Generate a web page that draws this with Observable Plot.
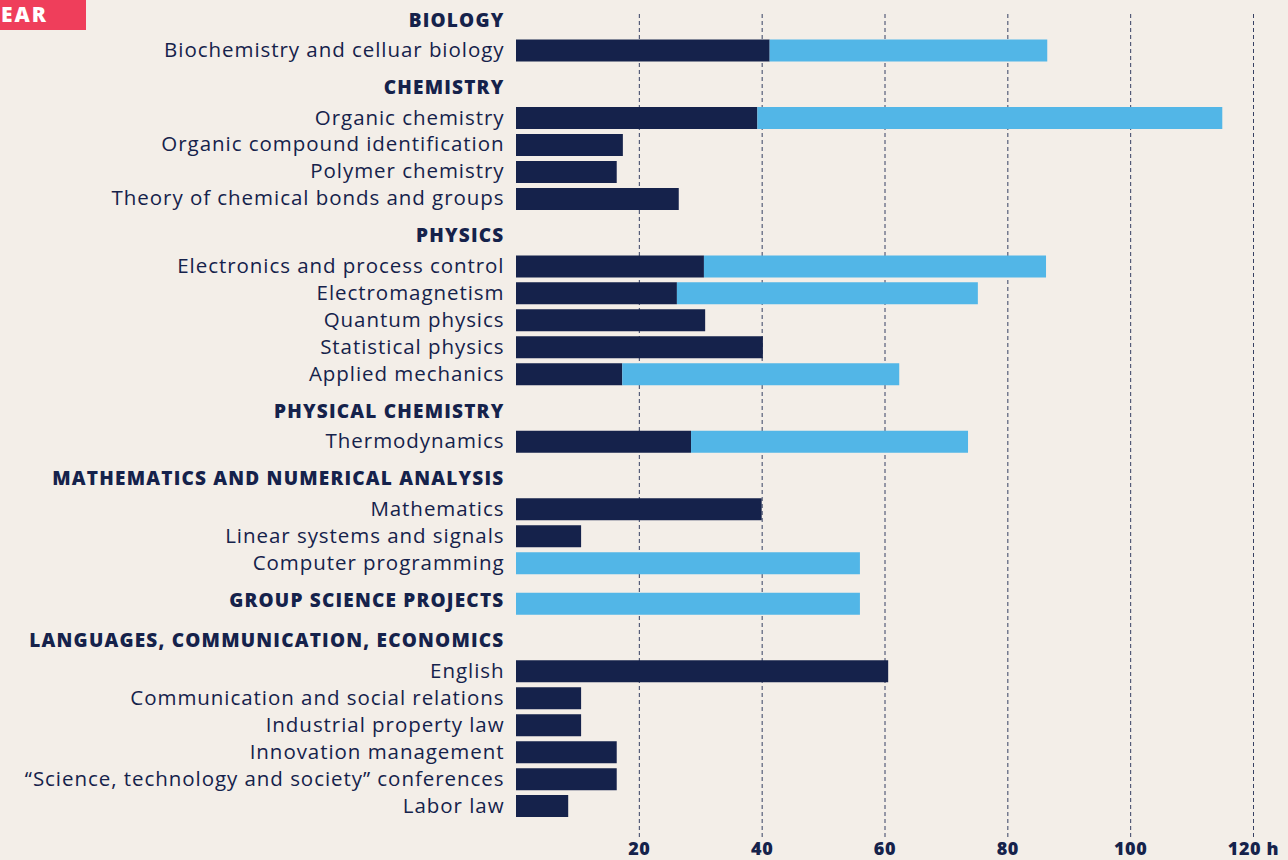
<!DOCTYPE html>
<html>
<head>
<meta charset="utf-8">
<script src="https://cdn.jsdelivr.net/npm/d3@7"></script>
<script src="https://cdn.jsdelivr.net/npm/@observablehq/plot@0.6"></script>
<style>
  html, body { margin: 0; padding: 0; background: #f3eee8; }
  #wrap { position: relative; width: 1288px; height: 860px; overflow: hidden; }
  #tag { position: absolute; left: 0; top: 0; width: 86px; height: 30px; background: #ef3e5b;
         color: #fff; font: 800 21px "Open Sans", sans-serif; letter-spacing: 2px; line-height: 28px; padding-left: 1px; box-sizing: border-box; }
  #chart { position: absolute; left: 0; top: 0; }
</style>
</head>
<body>
<div id="wrap"><div id="chart"></div><div id="tag">EAR</div></div>
<script>
const groupNames = ["BIOLOGY", "CHEMISTRY", "PHYSICS", "PHYSICAL CHEMISTRY",
  "MATHEMATICS AND NUMERICAL ANALYSIS", "GROUP SCIENCE PROJECTS", "LANGUAGES, COMMUNICATION, ECONOMICS"];
const groupDark  = [null, null, null, null, null, 0, null];
const groupLight = [null, null, null, null, null, 56, null];

const courseNames = [
  "Biochemistry and celluar biology",
  "Organic chemistry", "Organic compound identification", "Polymer chemistry", "Theory of chemical bonds and groups",
  "Electronics and process control", "Electromagnetism", "Quantum physics", "Statistical physics", "Applied mechanics",
  "Thermodynamics",
  "Mathematics", "Linear systems and signals", "Computer programming",
  "English", "Communication and social relations", "Industrial property law", "Innovation management",
  "\u201cScience, technology and society\u201d conferences", "Labor law"
];
const courseGroup = [0, 1, 1, 1, 1, 2, 2, 2, 2, 2, 3, 4, 4, 4, 6, 6, 6, 6, 6, 6];
const darkHours  = [41.3, 39.3, 17.4, 16.4, 26.5, 30.6, 26.2, 30.8, 40.2, 17.3, 28.5, 40, 10.6, 0, 60.6, 10.6, 10.6, 16.4, 16.4, 8.5];
const lightHours = [45.2, 75.7, 0, 0, 0, 55.7, 49, 0, 0, 45.1, 45.1, 0, 0, 56, 0, 0, 0, 0, 0, 0];
const tickValues = [20, 40, 60, 80, 100, 120];

// build rows: group heading followed by its courses, with a half-row gap before each group
const rows = [];
let pos = -1;
groupNames.forEach((g, gi) => {
  pos += gi === 0 ? 1 : 1.5;
  rows.push({label: g, heading: true, pos, dark: groupDark[gi] ?? 0, light: groupLight[gi] ?? 0});
  courseNames.forEach((c, ci) => {
    if (courseGroup[ci] === gi) {
      pos += 1;
      rows.push({label: c, heading: false, pos, dark: darkHours[ci], light: lightHours[ci]});
    }
  });
});

const navy = "#15224b";
const blue = "#52b6e7";
const lastPos = pos;

const chart = Plot.plot({
  width: 1288,
  height: 860,
  marginLeft: 516,
  marginRight: 35,
  marginTop: 14,
  marginBottom: 22,
  style: {background: "transparent", fontFamily: "'Open Sans', sans-serif", color: navy},
  x: {domain: [0, 120], axis: null},
  y: {domain: [-1/3, lastPos + 1.2], axis: null, reverse: true},
  marks: [
    Plot.gridX(tickValues, {stroke: navy, strokeOpacity: 0.85, strokeDasharray: "4,3", strokeWidth: 1}),
    Plot.ruleY(rows.filter(d => d.dark > 0), {y: "pos", x1: 0, x2: "dark", stroke: navy, strokeWidth: 22}),
    Plot.ruleY(rows.filter(d => d.light > 0), {y: "pos", x1: "dark", x2: d => d.dark + d.light, stroke: blue, strokeWidth: 22}),
    Plot.text(rows.filter(d => !d.heading), {x: 0, y: "pos", text: "label", textAnchor: "end", dx: -12,
      fontSize: 20.5, fill: navy, fontWeight: 400}),
    Plot.text(rows.filter(d => d.heading), {x: 0, y: "pos", text: "label", textAnchor: "end", dx: -12, dy: -3,
      fontSize: 19, fill: navy, fontWeight: 800}),
    Plot.axisX(tickValues, {anchor: "bottom", tickSize: 0, tickPadding: 4, fontSize: 18, fontWeight: 800, fill: navy,
      tickFormat: d => d === 120 ? "120 h" : String(d), label: null})
  ]
});
const textGroups = chart.querySelectorAll('g[aria-label="text"]');
if (textGroups[0]) textGroups[0].setAttribute("letter-spacing", "0.95");
if (textGroups[1]) textGroups[1].setAttribute("letter-spacing", "1.2");
const tickGroup = chart.querySelector('g[aria-label="x-axis tick label"]');
if (tickGroup) tickGroup.setAttribute("letter-spacing", "0.6");
document.getElementById("chart").appendChild(chart);
</script>
</body>
</html>
